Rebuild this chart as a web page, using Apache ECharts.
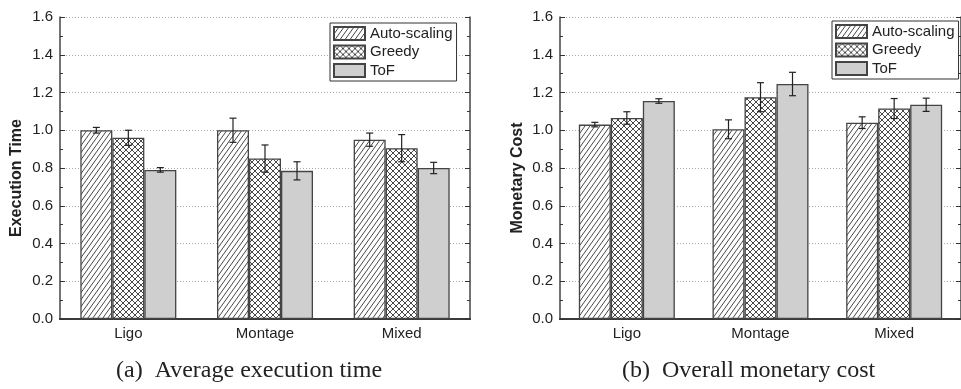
<!DOCTYPE html>
<html>
<head>
<meta charset="utf-8">
<script src="https://cdn.jsdelivr.net/npm/echarts@6/dist/echarts.min.js"></script>
<style>
  html, body { margin: 0; padding: 0; background: #fff; }
  #chart { width: 961px; height: 389px; }
</style>
</head>
<body>
<div id="chart"></div>
<script>
const categories = ['Ligo', 'Montage', 'Mixed'];
const seriesNames = ['Auto-scaling', 'Greedy', 'ToF'];
const yTicks = [0, 0.2, 0.4, 0.6, 0.8, 1.0, 1.2, 1.4, 1.6];

// (a) average execution time
const execAuto = [1.0, 1.0, 0.95];
const execGreedy = [0.96, 0.85, 0.905];
const execTof = [0.79, 0.785, 0.80];
const execAutoErr = [0.015, 0.064, 0.035];
const execGreedyErr = [0.04, 0.072, 0.072];
const execTofErr = [0.012, 0.048, 0.03];

// (b) overall monetary cost
const costAuto = [1.03, 1.005, 1.04];
const costGreedy = [1.065, 1.175, 1.115];
const costTof = [1.155, 1.245, 1.135];
const costAutoErr = [0.012, 0.05, 0.031];
const costGreedyErr = [0.033, 0.077, 0.053];
const costTofErr = [0.012, 0.062, 0.035];

const BAR_W = 32;
const EDGE = '#444';

// hatch tiles: "///" is a bit steeper than 45 degrees, crosshatch is square
function hatch(cross) {
  const w = cross ? 6 : 5, h = cross ? 6 : 7;
  const c = document.createElement('canvas');
  c.width = w; c.height = h;
  const g = c.getContext('2d');
  g.fillStyle = '#fff';
  g.fillRect(0, 0, w, h);
  g.strokeStyle = '#333';
  g.lineWidth = 0.9;
  g.beginPath();
  for (let k = -1; k <= 1; k++) {
    g.moveTo(k * w, h); g.lineTo(k * w + w, 0);
    if (cross) { g.moveTo(k * w, 0); g.lineTo(k * w + w, h); }
  }
  g.stroke();
  return { image: c, repeat: 'repeat' };
}

const fills = [hatch(false), hatch(true), '#cfcfcf'];

function errData(vals, errs, k) {
  return vals.map((v, i) => [i, v - errs[i], v + errs[i], k - 1]);
}

function renderErr(params, api) {
  const cat = api.value(0);
  const off = api.value(3) * BAR_W;
  const top = api.coord([cat, api.value(2)]);
  const bot = api.coord([cat, api.value(1)]);
  const x = top[0] + off;
  const cw = 3.5;
  const style = { stroke: '#222', lineWidth: 1.2 };
  return {
    type: 'group',
    children: [
      { type: 'line', shape: { x1: x, y1: top[1], x2: x, y2: bot[1] }, style },
      { type: 'line', shape: { x1: x - cw, y1: top[1], x2: x + cw, y2: top[1] }, style },
      { type: 'line', shape: { x1: x - cw, y1: bot[1], x2: x + cw, y2: bot[1] }, style }
    ]
  };
}

const labelFont = { fontFamily: 'Liberation Sans', fontSize: 15, color: '#222' };

function yAxes(gi, name, gap) {
  const base = {
    gridIndex: gi, type: 'value', min: 0, max: 1.6, interval: 0.2,
    axisLine: { show: true, lineStyle: { color: '#444', width: 1.5 } },
    axisTick: { show: true, inside: true, length: 5, lineStyle: { color: '#333' } },
    minorTick: { show: true, splitNumber: 2, length: 3, lineStyle: { color: '#333' } }
  };
  return [
    Object.assign({}, base, {
      position: 'left',
      name: name, nameLocation: 'middle', nameGap: gap,
      nameTextStyle: { fontFamily: 'Liberation Sans', fontSize: 16, fontWeight: 'bold', color: '#222', padding: [0, 20, 0, 0] },
      axisLabel: Object.assign({ margin: 7, formatter: v => yTicks.includes(+v.toFixed(1)) ? v.toFixed(1) : '' }, labelFont),
      splitLine: { show: true, lineStyle: { color: '#aaa', type: [1, 2], width: 1 } }
    }),
    Object.assign({}, base, {
      position: 'right',
      axisLabel: { show: false },
      splitLine: { show: false }
    })
  ];
}

function xAxes(gi) {
  return [
    {
      gridIndex: gi, type: 'category', data: categories, position: 'bottom',
      axisLine: { show: true, lineStyle: { color: '#222', width: 2 } },
      axisTick: { show: false },
      axisLabel: Object.assign({ margin: 7 }, labelFont)
    },
    {
      gridIndex: gi, type: 'category', data: categories, position: 'top',
      axisLine: { show: true, lineStyle: { color: '#444', width: 1.5 } },
      axisTick: { show: false }, axisLabel: { show: false }
    }
  ];
}

function barSeries(gi, arrays) {
  return arrays.map((d, k) => ({
    name: seriesNames[k], type: 'bar', xAxisIndex: gi * 2, yAxisIndex: gi * 2,
    data: d, barWidth: BAR_W, barGap: '0%',
    itemStyle: { color: fills[k], borderColor: EDGE, borderWidth: 1.3 },
    emphasis: { disabled: true }
  }));
}

function errSeries(gi, list) {
  return list.map(d => ({
    type: 'custom', xAxisIndex: gi * 2, yAxisIndex: gi * 2,
    data: d, renderItem: renderErr, z: 10, silent: true
  }));
}

function legend(left, top) {
  return {
    data: seriesNames, orient: 'vertical', left: left, top: top,
    itemWidth: 31, itemHeight: 13, itemGap: 3.5,
    padding: [3, 4, 3, 3],
    backgroundColor: '#fff', borderColor: '#333', borderWidth: 1,
    textStyle: { fontFamily: 'Liberation Sans', fontSize: 15, lineHeight: 15, color: '#222' },
    icon: 'rect', selectedMode: false
  };
}

const chart = echarts.init(document.getElementById('chart'), null, { renderer: 'canvas' });
chart.setOption({
  animation: false,
  grid: [
    { left: 60, top: 17, width: 410, height: 302 },
    { left: 560, top: 17, width: 410, height: 302 }
  ],
  xAxis: xAxes(0).concat(xAxes(1)),
  yAxis: yAxes(0, 'Execution Time', 35).concat(yAxes(1, 'Monetary Cost', 34)),
  legend: [legend(330, 23), legend(832, 21)],
  graphic: [
    { type: 'text', left: 116, top: 359, style: { text: '(a)  Average execution time', font: '24px "Liberation Serif"', fill: '#222' } },
    { type: 'text', left: 622, top: 359, style: { text: '(b)  Overall monetary cost', font: '24px "Liberation Serif"', fill: '#222' } }
  ],
  series: [
    ...barSeries(0, [execAuto, execGreedy, execTof]),
    ...barSeries(1, [costAuto, costGreedy, costTof]),
    ...errSeries(0, [errData(execAuto, execAutoErr, 0), errData(execGreedy, execGreedyErr, 1), errData(execTof, execTofErr, 2)]),
    ...errSeries(1, [errData(costAuto, costAutoErr, 0), errData(costGreedy, costGreedyErr, 1), errData(costTof, costTofErr, 2)])
  ]
});
</script>
</body>
</html>
